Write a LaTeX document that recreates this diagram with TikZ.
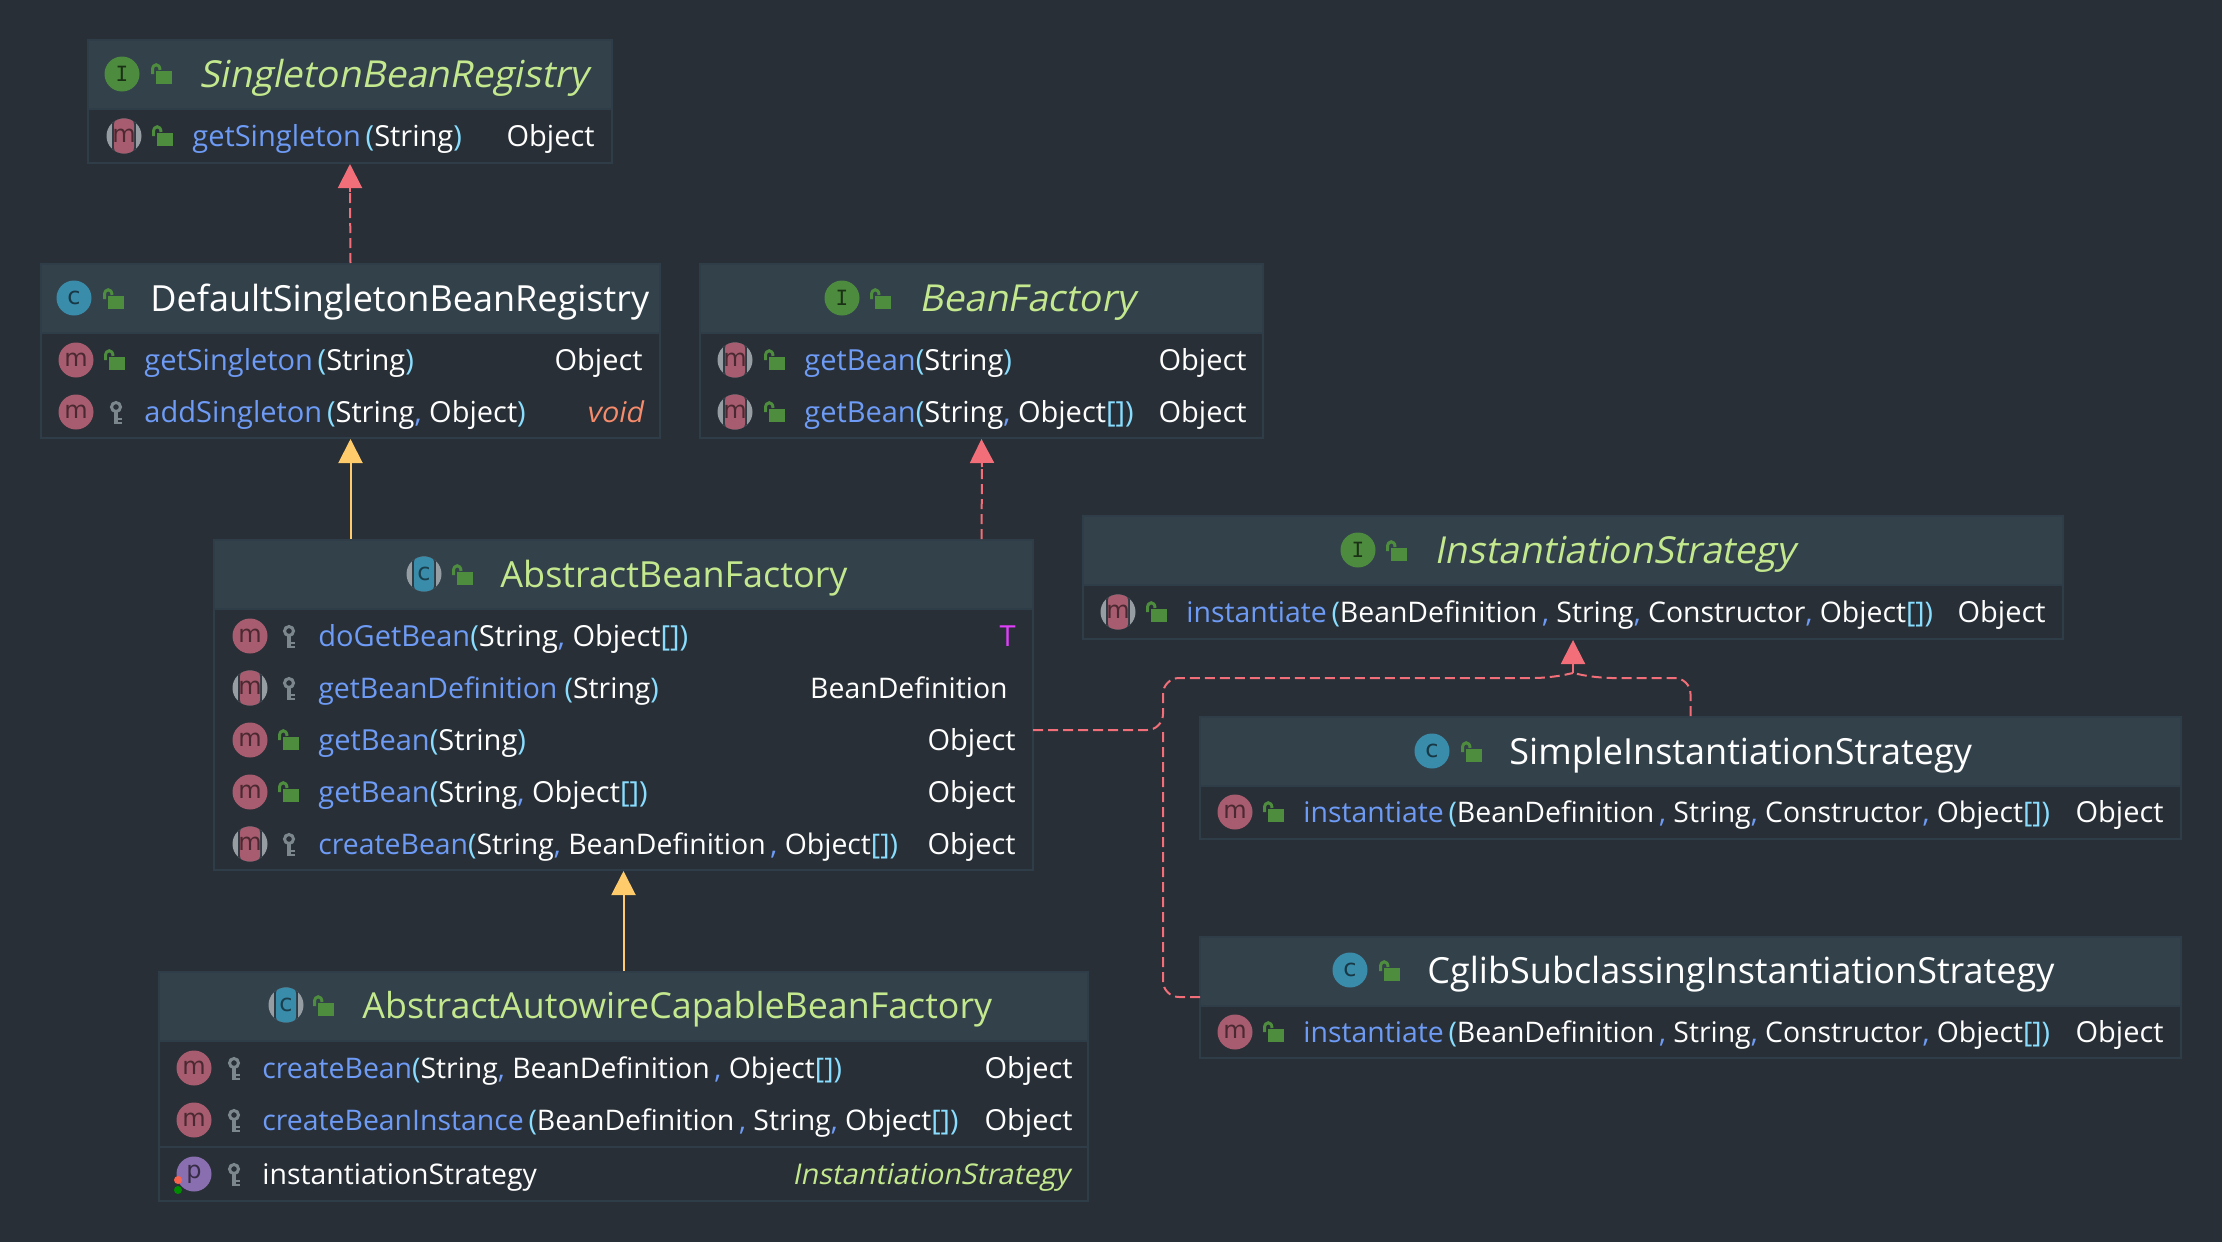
\documentclass[tikz,border=0pt]{standalone}
\usepackage{fontspec}
\setmainfont{Open Sans}
\newfontfamily\slfont[FakeSlant=0.2]{Open Sans}
\newfontfamily\icofont{DejaVu Sans}
\newfontfamily\icimono{DejaVu Sans Mono}
\usetikzlibrary{arrows.meta,fit}

\definecolor{bgc}{HTML}{282F36}
\definecolor{headc}{HTML}{33414B}
\definecolor{edgec}{HTML}{2F3D48}
\definecolor{methc}{HTML}{6E9BF5}
\definecolor{punc}{HTML}{89DDFF}
\definecolor{ifc}{HTML}{C3E88D}
\definecolor{voidc}{HTML}{F78C6C}
\definecolor{tvarc}{HTML}{E040FB}
\definecolor{redc}{HTML}{F26E78}
\definecolor{yelc}{HTML}{FFCB6B}
\definecolor{lockc}{HTML}{4E8D3E}
\definecolor{keyc}{HTML}{7C868D}
\definecolor{mcol}{HTML}{A85C6F}
\definecolor{ccol}{HTML}{3A8CAB}
\definecolor{icol}{HTML}{4D8C3F}
\definecolor{pcol}{HTML}{8A6FB0}

\newcommand{\mn}[1]{\textcolor{methc}{#1}}
\newcommand{\opn}{\textcolor{punc}{(}}
\newcommand{\cls}{\textcolor{punc}{)}}
\newcommand{\brk}{\textcolor{punc}{[]}}
\newcommand{\cmm}{\textcolor{methc}{,}}

\begin{document}
\begin{tikzpicture}
    [x=0.5pt, y=-0.5pt,
    head/.style={draw=edgec, line width=1pt, fill=headc, inner sep=0pt},
    body/.style={draw=edgec, line width=1pt, fill=bgc, inner sep=0pt},
    row/.style={anchor=base west, inner sep=0pt, text=white, font=\fontsize{14.5}{16}\selectfont},
    longrow/.style={row, font=\fontsize{14.2}{16}\selectfont},
    type/.style={anchor=base east, inner sep=0pt, text=white, font=\fontsize{14.5}{16}\selectfont},
    ital/.style={font=\slfont\fontsize{14.3}{16}\selectfont},
    title/.style={anchor=base west, inner sep=0pt, text=white, font=\fontsize{18}{20}\selectfont},
    ititle/.style={title, text=ifc, font=\slfont\fontsize{18.6}{20}\selectfont},
    icon/.style={circle, inner sep=0pt, minimum size=17.5pt, font=\icofont\fontsize{12}{12}\selectfont},
    micon/.style={icon, fill=mcol, text=mcol!45!black},
    cicon/.style={icon, fill=ccol, text=ccol!40!black},
    iicon/.style={icon, fill=icol, text=icol!35!black, font=\icimono\fontsize{10.5}{12}\selectfont},
    picon/.style={icon, fill=pcol, text=pcol!40!black},
    absicon/.style={icon, fill=keyc!80!white, text=#1!45!black, path picture={
        \fill[headc!60!bgc] ([xshift=-6pt]path picture bounding box.north) rectangle ([xshift=6pt]path picture bounding box.south);
        \fill[#1, rounded corners=3pt] ([xshift=-5pt]path picture bounding box.north) rectangle ([xshift=5pt]path picture bounding box.south);}},
    impl/.style={redc, line width=1pt, dash pattern=on 5pt off 2.5pt},
    implhead/.style={redc, line width=1pt, -{Triangle[length=12pt,width=12pt]}},
    extd/.style={yelc, line width=1pt, -{Triangle[length=12pt,width=12pt]}},
    lockpic/.pic={
        \fill[lockc] (-5,-3) rectangle (11,10);
        \draw[lockc, line width=1.5pt] (-8.5,0) -- (-8.5,-4) .. controls (-8.5,-11) and (-1,-11) .. (-1,-4);},
    keypic/.pic={
        \draw[keyc, line width=1.5pt] (0,-6) circle (4.5);
        \draw[keyc, line width=1.9pt] (0,-1) -- (0,11);
        \draw[keyc, line width=1.1pt] (0,6) -- (6,6) (0,10) -- (6,10);}]

    \fill[bgc] (0,0) rectangle (2222,1242);

    % SingletonBeanRegistry
    \node[head, fit={(88,40) (612,109)}] (srh) {};
    \node[body, fit={(88,109) (612,163)}] (srb) {};
    \node[iicon] (sri) at (122,74) {I};
    \pic at (161,74) {lockpic};
    \node[ititle] (srt) at (199,87) {SingletonBeanRegistry};
    \node[absicon=mcol] (srm) at (124,136) {m};
    \pic at (162,136) {lockpic};
    \node[row] (srr) at (192,146) {\mn{getSingleton}\,\opn String\cls};
    \node[type] (sry) at (595,146) {Object};

    % DefaultSingletonBeanRegistry
    \node[head, fit={(41,264) (660,333)}] (dsh) {};
    \node[body, fit={(41,333) (660,438)}] (dsb) {};
    \node[cicon] (dsi) at (74,298) {c};
    \pic at (113,299) {lockpic};
    \node[title] (dst) at (150,311) {DefaultSingletonBeanRegistry};
    \node[micon] (dsm1) at (76,360) {m};
    \pic at (114,360) {lockpic};
    \node[row] (dsr1) at (144,370) {\mn{getSingleton}\,\opn String\cls};
    \node[type] (dsy1) at (643,370) {Object};
    \node[micon] (dsm2) at (76,412) {m};
    \pic at (116,413) {keypic};
    \node[row] (dsr2) at (144,422) {\mn{addSingleton}\,\opn String\cmm{} Object\cls};
    \node[type, text=voidc, ital] (dsy2) at (643,422) {void};

    % BeanFactory
    \node[head, fit={(700,264) (1263,333)}] (bfh) {};
    \node[body, fit={(700,333) (1263,438)}] (bfb) {};
    \node[iicon] (bfi) at (842,298) {I};
    \pic at (880,299) {lockpic};
    \node[ititle] (bft) at (919,311) {BeanFactory};
    \node[absicon=mcol] (bfm1) at (735,360) {m};
    \pic at (774,360) {lockpic};
    \node[row] (bfr1) at (804,370) {\mn{getBean}\opn String\cls};
    \node[type] (bfy1) at (1247,370) {Object};
    \node[absicon=mcol] (bfm2) at (735,412) {m};
    \pic at (774,412) {lockpic};
    \node[row] (bfr2) at (804,422) {\mn{getBean}\opn String\cmm{} Object\brk\cls};
    \node[type] (bfy2) at (1247,422) {Object};

    % AbstractBeanFactory
    \node[head, fit={(214,540) (1033,609)}] (abh) {};
    \node[body, fit={(214,609) (1033,870)}] (abb) {};
    \node[absicon=ccol] (abi) at (424,574) {c};
    \pic at (462,575) {lockpic};
    \node[title, text=ifc] (abt) at (500,587) {AbstractBeanFactory};
    \node[micon] (abm1) at (250,636) {m};
    \pic at (289,637) {keypic};
    \node[row] (abr1) at (318,646) {\mn{doGetBean}\opn String\cmm{} Object\brk\cls};
    \node[type, text=tvarc] (aby1) at (1016,646) {T};
    \node[absicon=mcol] (abm2) at (250,688) {m};
    \pic at (289,689) {keypic};
    \node[longrow] (abr2) at (318,698) {\mn{getBeanDefinition}\ \opn String\cls};
    \node[type, font=\fontsize{14.2}{16}\selectfont] (aby2) at (1008,698) {BeanDefinition};
    \node[micon] (abm3) at (250,740) {m};
    \pic at (288,740) {lockpic};
    \node[row] (abr3) at (318,750) {\mn{getBean}\opn String\cls};
    \node[type] (aby3) at (1016,750) {Object};
    \node[micon] (abm4) at (250,792) {m};
    \pic at (288,792) {lockpic};
    \node[row] (abr4) at (318,802) {\mn{getBean}\opn String\cmm{} Object\brk\cls};
    \node[type] (aby4) at (1016,802) {Object};
    \node[absicon=mcol] (abm5) at (250,844) {m};
    \pic at (289,845) {keypic};
    \node[longrow] (abr5) at (318,854) {\mn{createBean}\opn String\cmm{} BeanDefinition\,\cmm{} Object\brk\cls};
    \node[type] (aby5) at (1016,854) {Object};

    % InstantiationStrategy
    \node[head, fit={(1083,516) (2063,585)}] (ish) {};
    \node[body, fit={(1083,585) (2063,639)}] (isb) {};
    \node[iicon] (isi) at (1358,550) {I};
    \pic at (1396,551) {lockpic};
    \node[ititle] (ist) at (1434,563) {InstantiationStrategy};
    \node[absicon=mcol] (ism) at (1118,612) {m};
    \pic at (1156,612) {lockpic};
    \node[longrow] (isr) at (1186,622) {\mn{instantiate}\,\opn BeanDefinition\,\cmm{} String\cmm{} Constructor\cmm{} Object\brk\cls};
    \node[type] (isy) at (2046,622) {Object};

    % SimpleInstantiationStrategy
    \node[head, fit={(1200,717) (2181,786)}] (sih) {};
    \node[body, fit={(1200,786) (2181,839)}] (sib) {};
    \node[cicon] (sii) at (1432,751) {c};
    \pic at (1471,752) {lockpic};
    \node[title] (sit) at (1509,764) {SimpleInstantiationStrategy};
    \node[micon] (sim) at (1235,812) {m};
    \pic at (1273,812) {lockpic};
    \node[longrow] (sir) at (1303,822) {\mn{instantiate}\,\opn BeanDefinition\,\cmm{} String\cmm{} Constructor\cmm{} Object\brk\cls};
    \node[type] (siy) at (2164,822) {Object};

    % CglibSubclassingInstantiationStrategy
    \node[head, fit={(1200,937) (2181,1006)}] (cgh) {};
    \node[body, fit={(1200,1006) (2181,1058)}] (cgb) {};
    \node[cicon] (cgi) at (1350,970) {c};
    \pic at (1389,971) {lockpic};
    \node[title] (cgt) at (1427,983) {CglibSubclassingInstantiationStrategy};
    \node[micon] (cgm) at (1235,1032) {m};
    \pic at (1273,1032) {lockpic};
    \node[longrow] (cgr) at (1303,1042) {\mn{instantiate}\,\opn BeanDefinition\,\cmm{} String\cmm{} Constructor\cmm{} Object\brk\cls};
    \node[type] (cgy) at (2164,1042) {Object};

    % AbstractAutowireCapableBeanFactory
    \node[head, fit={(159,972) (1088,1041)}] (aah) {};
    \node[body, fit={(159,1041) (1088,1147)}] (aab) {};
    \node[body, fit={(159,1147) (1088,1201)}] (aaf) {};
    \node[absicon=ccol] (aai) at (286,1005) {c};
    \pic at (323,1006) {lockpic};
    \node[title, text=ifc, font=\fontsize{17.9}{20}\selectfont] (aat) at (362,1018) {AbstractAutowireCapableBeanFactory};
    \node[micon] (aam1) at (194,1068) {m};
    \pic at (234,1069) {keypic};
    \node[longrow] (aar1) at (262,1078) {\mn{createBean}\opn String\cmm{} BeanDefinition\,\cmm{} Object\brk\cls};
    \node[type] (aay1) at (1073,1078) {Object};
    \node[micon] (aam2) at (194,1120) {m};
    \pic at (234,1121) {keypic};
    \node[longrow] (aar2) at (262,1130) {\mn{createBeanInstance}\,\opn BeanDefinition\,\cmm{} String\cmm{} Object\brk\cls};
    \node[type] (aay2) at (1073,1130) {Object};
    \node[picon] (aap) at (194,1174) {p};
    \node[circle, fill=voidc!70!red, minimum size=4pt, inner sep=0pt] (aap1) at (178,1180) {};
    \node[circle, fill=green!55!black, minimum size=4pt, inner sep=0pt] (aap2) at (178,1190) {};
    \pic at (234,1175) {keypic};
    \node[longrow] (aar3) at (262,1184) {instantiationStrategy};
    \node[type, text=ifc, ital] (aay3) at (1070,1184) {InstantiationStrategy};

    % connectors
    \coordinate (abo) at (1033,730);
    \coordinate (cgo) at (1200,997);
    \coordinate (bust) at (1163,678);
    \coordinate (busb) at (1163,997);
    \coordinate (isl) at (1550,678);
    \coordinate (isr2) at (1596,678);
    \coordinate (isn) at (1573,673);

    \draw[impl] (dsh.north) -- (350,190);
    \draw[implhead] (350,192) -- (srb.south);
    \draw[extd] (abh.north -| dsb.south) -- (dsb.south);
    \draw[impl] (abh.north -| bfb.south) -- (982,465);
    \draw[implhead] (982,467) -- (bfb.south);
    \draw[extd] (aah.north -| abb.south) -- (abb.south);
    \draw[impl, rounded corners=8pt] (abo) -| (bust) -- (isl) -- (isn);
    \draw[impl, rounded corners=8pt] (cgo) -- (busb) -- (1163,730);
    \draw[impl, rounded corners=8pt] (sih.north) |- (isr2) -- (isn);
    \draw[implhead] (isn) -- (isb.south);
\end{tikzpicture}
\end{document}
